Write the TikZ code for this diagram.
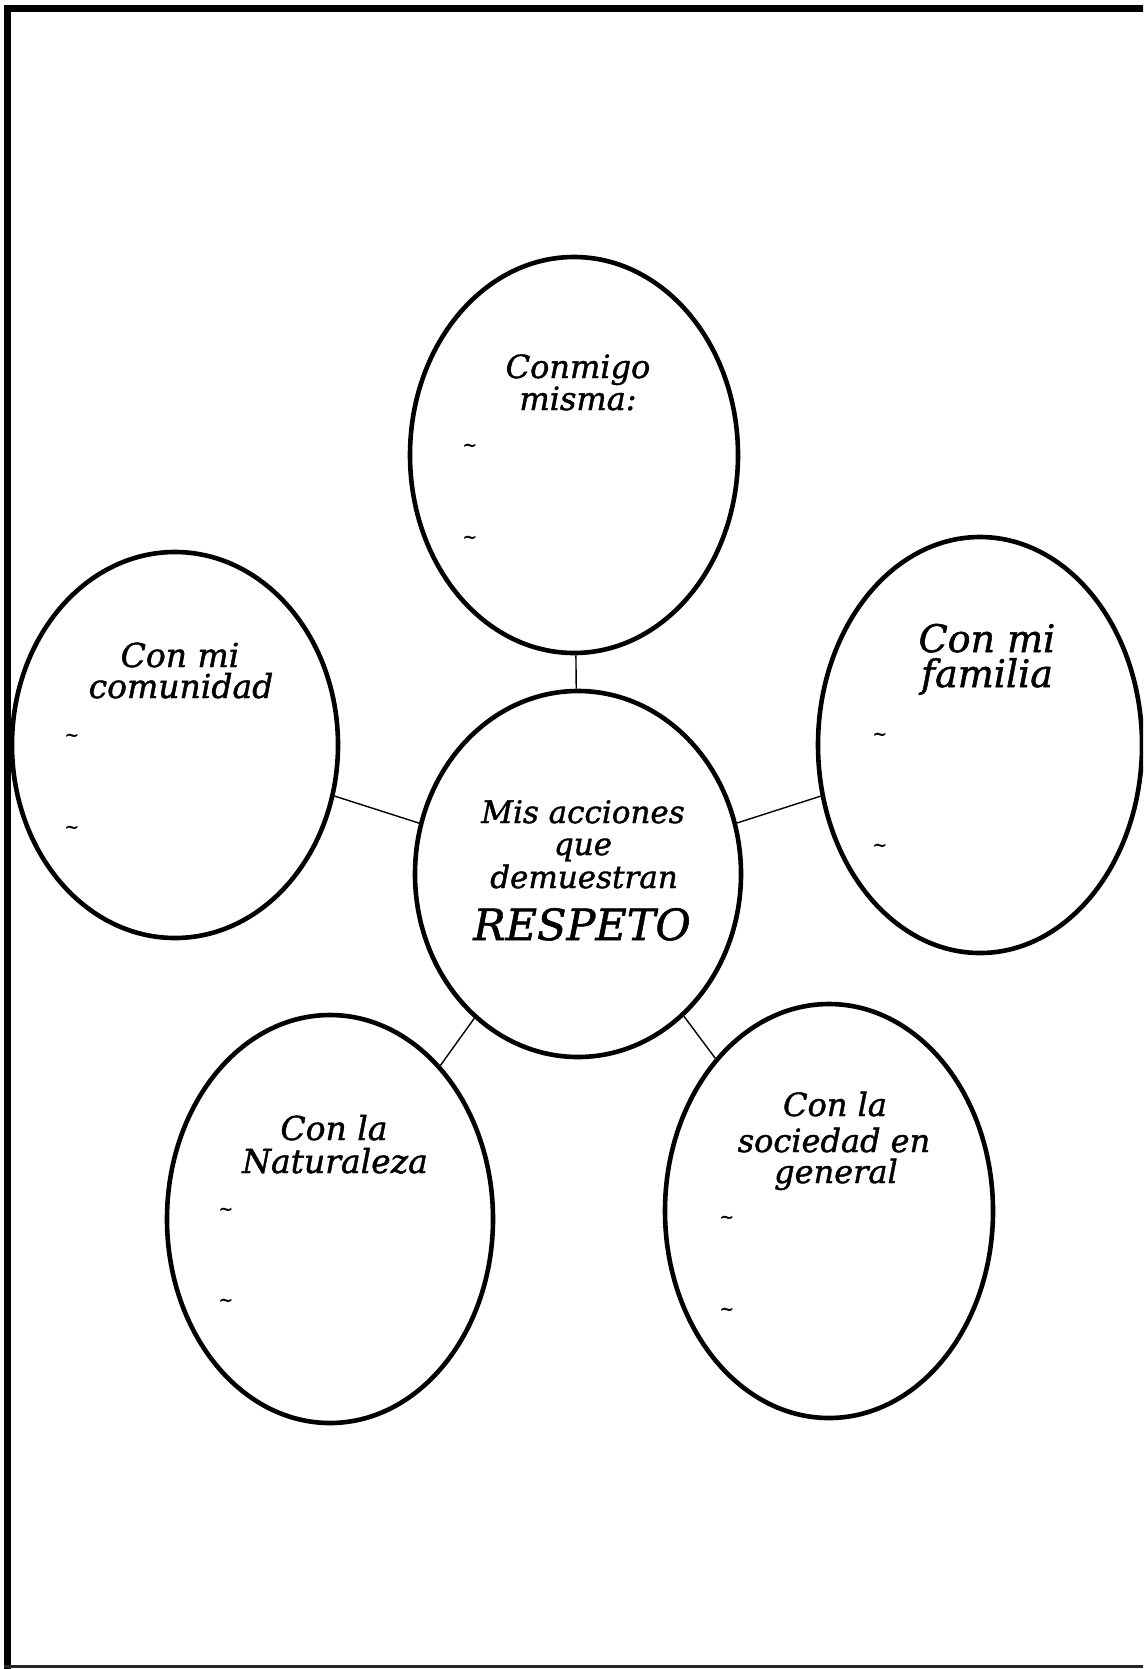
\documentclass[tikz,border=0pt]{standalone}
\usepackage{fontspec}
\setmainfont{DejaVu Serif}[ItalicFeatures={FakeBold=1.3}]
\usetikzlibrary{shapes.geometric}
\begin{document}
\begin{tikzpicture}[x=1pt,y=-1pt,
  bubble/.style={draw=black, line width=4.6pt, ellipse, inner sep=0pt},
  link/.style={draw=black, line width=1.4pt},
  txt/.style={anchor=base, inner sep=0pt, font=\itshape\fontsize{#1}{#1}\selectfont},
  txt/.default=32,
  tmark/.style={anchor=center, inner sep=0pt, font=\bfseries\fontsize{18}{18}\selectfont}]
\useasboundingbox (0,0) rectangle (1143,1669);
\clip (0,0) rectangle (1143,1669);
\fill[white] (0,0) rectangle (1143,1669);
% frame
\draw[line width=7.3pt] (7.7,1670) -- (7.7,8.6) -- (1150,8.6);
\draw[line width=3.6pt, black!85] (4,1666.3) -- (1150,1666.3);
% bubbles
\node[bubble, minimum width=328pt, minimum height=396pt] (top) at (574,455) {};
\node[bubble, minimum width=326pt, minimum height=366pt] (ctr) at (578,874) {};
\node[bubble, minimum width=326pt, minimum height=386pt] (lft) at (175,745) {};
\node[bubble, minimum width=324pt, minimum height=416pt] (rgt) at (980,745) {};
\node[bubble, minimum width=326pt, minimum height=408pt] (bl) at (330,1219) {};
\node[bubble, minimum width=328pt, minimum height=414pt] (br) at (829,1211) {};
% connectors
\draw[link] (ctr) -- (top);
\draw[link] (ctr) -- (lft);
\draw[link] (ctr) -- (rgt);
\draw[link] (ctr) -- (bl);
\draw[link] (ctr) -- (br);
% top text
\node[txt=32] (t1) at (578,378) {Conmigo};
\node[txt=32] (t2) at (578,410) {misma:};
\node[tmark] (t3) at (470,448) {\textasciitilde};
\node[tmark] (t4) at (470,540) {\textasciitilde};
% center text
\node[txt=31] (c1) at (583,823) {Mis acciones};
\node[txt=31] (c2) at (583,855) {que};
\node[txt=31] (c3) at (584,888) {demuestran};
\node[txt=43] (c4) at (582,940) {RESPETO};
% left text
\node[txt=33] (l1) at (180,667) {Con mi};
\node[txt=33] (l2) at (181,698) {comunidad};
\node[tmark] (l3) at (72,738) {\textasciitilde};
\node[tmark] (l4) at (72,830) {\textasciitilde};
% right text
\node[txt=38] (r1) at (987,652) {Con mi};
\node[txt=38] (r2) at (987,687) {familia};
\node[tmark] (r3) at (880,737) {\textasciitilde};
\node[tmark] (r4) at (880,848) {\textasciitilde};
% bottom-left text
\node[txt=33] (b1) at (334,1140) {Con la};
\node[txt=33] (b2) at (335,1173) {Naturaleza};
\node[tmark] (b3) at (226,1212) {\textasciitilde};
\node[tmark] (b4) at (226,1303) {\textasciitilde};
% bottom-right text
\node[txt=32] (s1) at (835,1116) {Con la};
\node[txt=32] (s2) at (834,1152) {sociedad en};
\node[txt=32] (s3) at (836,1183) {general};
\node[tmark] (s4) at (727,1220) {\textasciitilde};
\node[tmark] (s5) at (727,1312) {\textasciitilde};
\end{tikzpicture}
\end{document}
